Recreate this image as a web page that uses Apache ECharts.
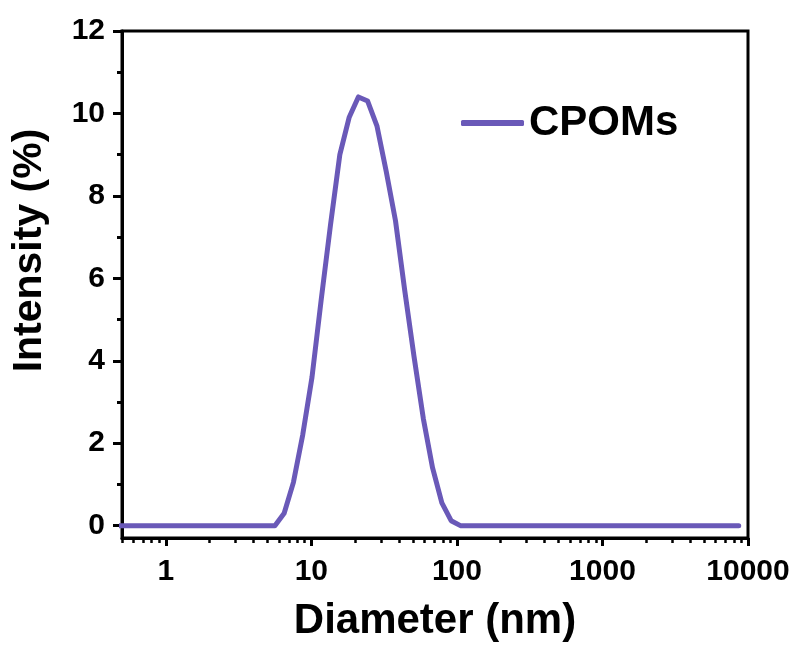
<!DOCTYPE html>
<html>
<head>
<meta charset="utf-8">
<script src="https://cdn.jsdelivr.net/npm/echarts@6/dist/echarts.min.js"></script>
<style>
html,body{margin:0;padding:0;background:#fff;}
#chart{width:800px;height:651px;}
</style>
</head>
<body>
<div id="chart"></div>
<script>
// ---- data ----
const diameter = [0.4632, 0.5365, 0.6213, 0.7195, 0.8332, 0.9649, 1.117, 1.294, 1.499, 1.736,
  2.01, 2.328, 2.696, 3.122, 3.615, 4.187, 4.849, 5.615, 6.503, 7.531, 8.721, 10.1, 11.7,
  13.54, 15.69, 18.17, 21.04, 24.36, 28.21, 32.67, 37.84, 43.82, 50.75, 58.77, 68.06, 78.82,
  91.28, 105.7, 122.4, 141.8, 164.2, 190.1, 220.2, 255.0, 295.3, 342.0, 396.1, 458.7, 531.2,
  615.1, 712.4, 825.0, 955.4, 1106, 1281, 1484, 1718, 1990, 2305, 2669, 3091, 3580, 4145,
  4801, 5560, 6439, 7456, 8635];
const intensity = [0, 0, 0, 0, 0, 0, 0, 0, 0, 0,
  0, 0, 0, 0, 0, 0, 0, 0, 0.3, 1.05, 2.2, 3.6, 5.5,
  7.3, 9.0, 9.9, 10.4, 10.3, 9.7, 8.6, 7.4, 5.7, 4.1, 2.6, 1.4, 0.55,
  0.12, 0, 0, 0, 0, 0, 0, 0, 0, 0, 0, 0, 0,
  0, 0, 0, 0, 0, 0, 0, 0, 0, 0, 0, 0, 0, 0,
  0, 0, 0, 0, 0];
const seriesName = 'CPOMs';
const xMajorTicks = [1, 10, 100, 1000, 10000];
const xMinorTicks = [0.5, 0.6, 0.7, 0.8, 0.9, 2, 3, 4, 5, 6, 7, 8, 9, 20, 30, 40, 50, 60, 70, 80, 90,
  200, 300, 400, 500, 600, 700, 800, 900, 2000, 3000, 4000, 5000, 6000, 7000, 8000, 9000];
const yMajorTicks = [0, 2, 4, 6, 8, 10, 12];
const yMinorTicks = [1, 3, 5, 7, 9, 11];
const xTitle = 'Diameter (nm)';
const yTitle = 'Intensity (%)';

// ---- chart ----
const FONT = '"Liberation Sans", Arial, Helvetica, sans-serif';
const lineColor = '#6a59b8';
const chart = echarts.init(document.getElementById('chart'), null, {renderer: 'canvas'});
const axisLine = {show: true, onZero: false, lineStyle: {color: '#000', width: 3}};
const labelStyle = {color: '#000', fontFamily: FONT, fontWeight: 'bold', fontSize: 30};

chart.setOption({
  animation: false,
  backgroundColor: '#fff',
  grid: {left: 122, right: 52, top: 31, bottom: 113, show: true, borderColor: '#000', borderWidth: 3, backgroundColor: 'transparent'},
  legend: {
    data: [{name: seriesName, icon: 'roundRect'}],
    left: 461, top: 102, padding: 0,
    itemWidth: 63, itemHeight: 6, itemGap: 10,
    itemStyle: {color: lineColor, borderWidth: 0},
    textStyle: {color: '#000', fontFamily: FONT, fontWeight: 'bold', fontSize: 42, padding: [0, 0, 0, 0]}
  },
  xAxis: [{
    type: 'log', logBase: 10, min: 0.5, max: 10000, position: 'bottom',
    axisLine: axisLine,
    axisTick: {show: true, inside: false, length: 8, customValues: xMajorTicks, lineStyle: {color: '#000', width: 3}},
    axisLabel: Object.assign({margin: 19, customValues: xMajorTicks,
      formatter: v => String(Math.round(v))}, labelStyle),
    splitLine: {show: false}, minorTick: {show: false},
    name: xTitle, nameLocation: 'middle', nameGap: 62,
    nameTextStyle: {color: '#000', fontFamily: FONT, fontWeight: 'bold', fontSize: 42}
  }, {
    type: 'log', logBase: 10, min: 0.5, max: 10000, position: 'bottom',
    axisLine: {show: false, onZero: false},
    axisTick: {show: true, inside: false, length: 5, customValues: xMinorTicks, lineStyle: {color: '#000', width: 2.5}},
    axisLabel: {show: false}, splitLine: {show: false}
  }],
  yAxis: [{
    type: 'value', min: -0.3, max: 12, position: 'left',
    axisLine: axisLine,
    axisTick: {show: true, inside: false, length: 9, customValues: yMajorTicks, lineStyle: {color: '#000', width: 3}},
    axisLabel: Object.assign({margin: 17, customValues: yMajorTicks,
      formatter: v => String(Math.round(v))}, labelStyle),
    splitLine: {show: false},
    name: yTitle, nameLocation: 'middle', nameGap: 72, nameRotate: 90,
    nameTextStyle: {color: '#000', fontFamily: FONT, fontWeight: 'bold', fontSize: 41, padding: [0, 0, 0, 68]}
  }, {
    type: 'value', min: -0.3, max: 12, position: 'left',
    axisLine: {show: false, onZero: false},
    axisTick: {show: true, inside: false, length: 5, customValues: yMinorTicks, lineStyle: {color: '#000', width: 3}},
    axisLabel: {show: false}, splitLine: {show: false}
  }],
  series: [{
    name: seriesName, type: 'line', xAxisIndex: 0, yAxisIndex: 0,
    data: diameter.map((d, i) => [d, intensity[i]]),
    symbol: 'none', smooth: false, clip: true,
    lineStyle: {color: lineColor, width: 5, cap: 'round', join: 'round'},
    itemStyle: {color: lineColor}
  }]
});
</script>
</body>
</html>
